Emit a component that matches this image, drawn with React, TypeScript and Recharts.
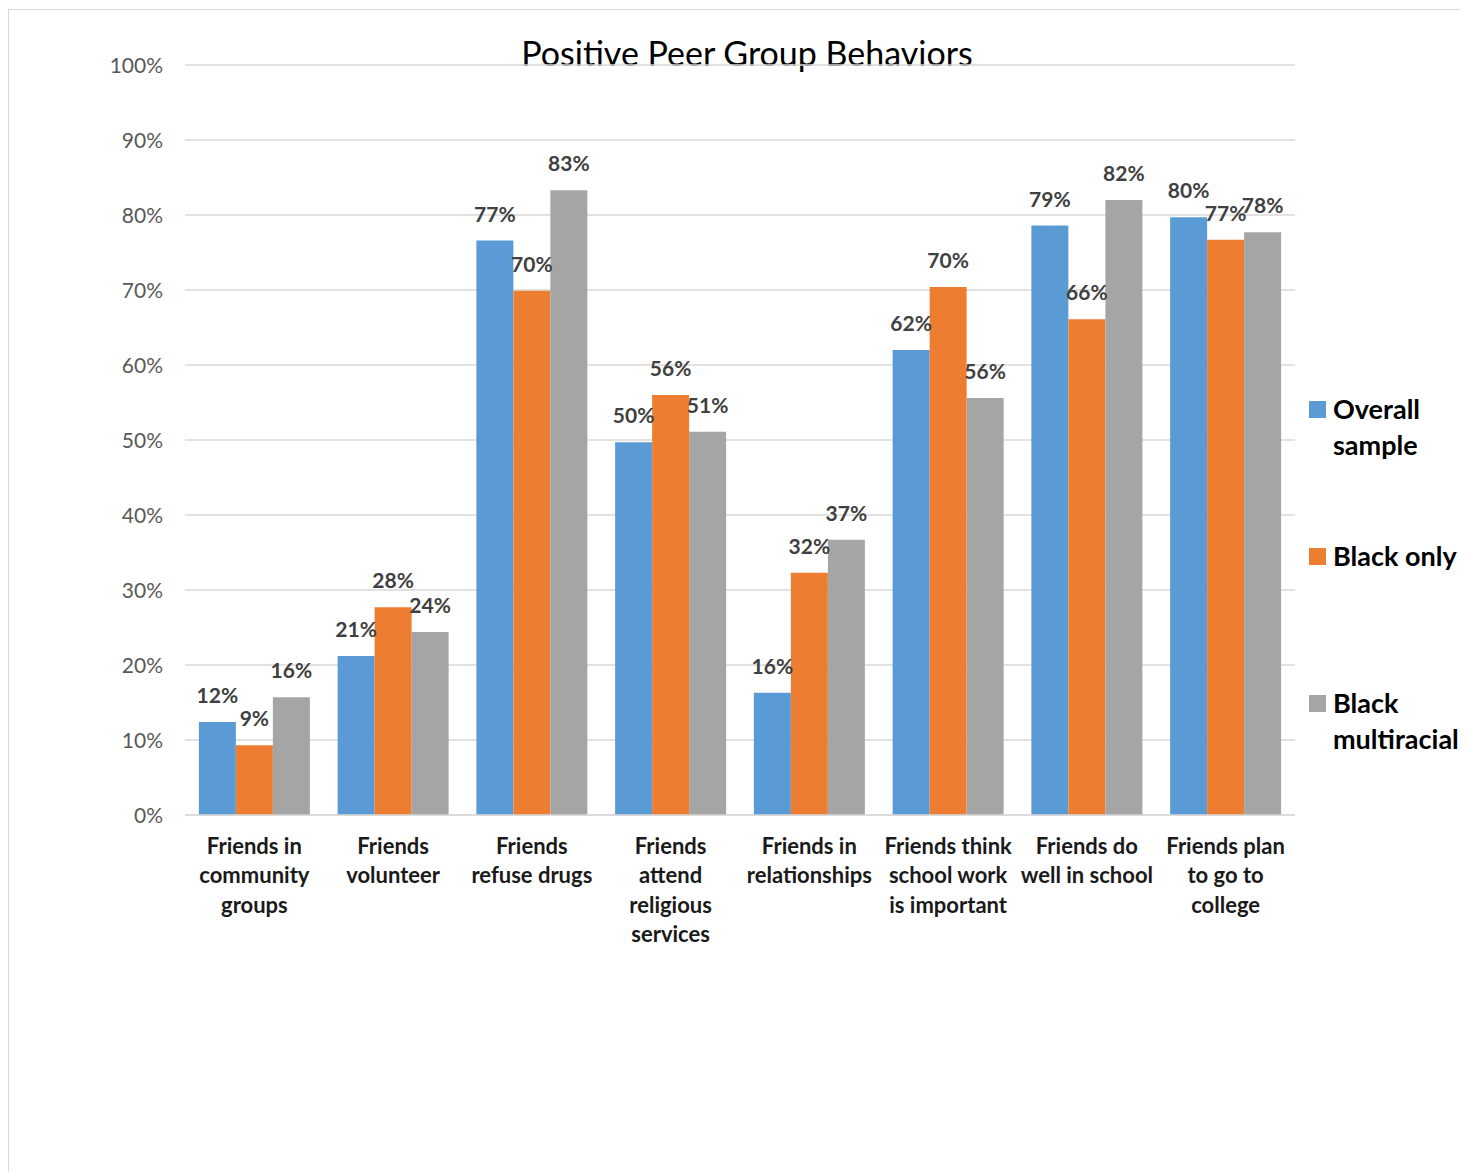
import React from "react";
import { BarChart, Bar, XAxis, YAxis, CartesianGrid, Legend, LabelList } from "recharts";

const categories = [
  "Friends in community groups",
  "Friends volunteer",
  "Friends refuse drugs",
  "Friends attend religious services",
  "Friends in relationships",
  "Friends think school work is important",
  "Friends do well in school",
  "Friends plan to go to college",
];
const categoryLines = [
  ["Friends in", "community", "groups"],
  ["Friends", "volunteer"],
  ["Friends", "refuse drugs"],
  ["Friends", "attend", "religious", "services"],
  ["Friends in", "relationships"],
  ["Friends think", "school work", "is important"],
  ["Friends do", "well in school"],
  ["Friends plan", "to go to", "college"],
];
const overallSample = [12.4, 21.2, 76.6, 49.7, 16.3, 62.0, 78.6, 79.7];
const blackOnly = [9.3, 27.7, 69.9, 56.0, 32.3, 70.4, 66.1, 76.7];
const blackMultiracial = [15.7, 24.4, 83.3, 51.1, 36.7, 55.6, 82.0, 77.7];
const yTicks = [0, 10, 20, 30, 40, 50, 60, 70, 80, 90, 100];
const seriesNames = ["Overall sample", "Black only", "Black multiracial"];
const legendLines = [["Overall", "sample"], ["Black only"], ["Black", "multiracial"]];
const seriesColors = ["#5B9BD5", "#ED7D31", "#A5A5A5"];
const title = "Positive Peer Group Behaviors";

const data = categories.map((c, i) => ({
  category: c,
  overall: overallSample[i],
  blackOnly: blackOnly[i],
  multi: blackMultiracial[i],
}));
const keys = ["overall", "blackOnly", "multi"];

const FONT = "Lato, 'Open Sans', sans-serif";

const XTick = (props: any) => {
  const { x, y, index } = props;
  const lines = categoryLines[index] || [];
  return (
    <text x={x} y={y} textAnchor="middle" fontFamily={FONT} fontWeight={700} fontSize={22} fill="#1a1a1a">
      {lines.map((l, i) => (
        <tspan key={i} x={x} y={y + 38.5 + i * 29.5}>
          {l}
        </tspan>
      ))}
    </text>
  );
};

const YTick = (props: any) => {
  const { x, y, payload } = props;
  return (
    <text x={x} y={y + 7.5} textAnchor="end" fontFamily={FONT} fontSize={21} fill="#595959">
      {`${payload.value}%`}
    </text>
  );
};

const renderLabel = (props: any) => {
  const { x, y, width, value } = props;
  return (
    <text
      x={Number(x) + Number(width) / 2}
      y={Number(y) - 19}
      textAnchor="middle"
      fontFamily={FONT}
      fontWeight={700}
      fontSize={21}
      fill="#404040"
    >
      {`${Math.round(Number(value))}%`}
    </text>
  );
};

const LegendContent = () => (
  <div style={{ position: "relative", width: 160, height: 340, fontFamily: FONT }}>
    {seriesNames.map((name, i) => (
      <div key={name} style={{ position: "absolute", left: 0, top: i * 147, width: 160 }}>
        <div
          style={{
            position: "absolute",
            left: 1,
            top: 9.5,
            width: 17,
            height: 17,
            background: seriesColors[i],
          }}
        />
        <div
          style={{
            position: "absolute",
            left: 25,
            top: -1,
            fontSize: 27,
            fontWeight: 700,
            lineHeight: "36px",
            color: "#000",
            whiteSpace: "nowrap",
          }}
        >
          {legendLines[i].map((l, j) => (
            <div key={j}>{l}</div>
          ))}
        </div>
      </div>
    ))}
  </div>
);

export default function App() {
  return (
    <div style={{ position: "relative", width: 1460, height: 1164, fontFamily: FONT }}>
      <div
        style={{
          position: "absolute",
          left: 0,
          top: 1,
          width: 1460,
          height: 1163,
          borderTop: "1px solid #d9d9d9",
          borderLeft: "1px solid #d9d9d9",
          boxSizing: "border-box",
          pointerEvents: "none",
        }}
      />
      <div
        style={{
          position: "absolute",
          left: 739 - 300,
          width: 600,
          top: 25,
          textAlign: "center",
          fontFamily: FONT,
          fontSize: 34,
          lineHeight: "40px",
          color: "#000",
        }}
      >
        {title}
      </div>
      <BarChart
        width={1460}
        height={1164}
        data={data}
        margin={{ top: 57, right: 13, bottom: 227, left: 117 }}
        barCategoryGap="10%"
        barGap={0}
      >
        <CartesianGrid horizontal vertical={false} stroke="#d9d9d9" strokeWidth={1.5} />
        <XAxis
          dataKey="category"
          height={130}
          tickLine={false}
          axisLine={{ stroke: "#d9d9d9", strokeWidth: 1.5 }}
          tickSize={0}
          tickMargin={0}
          interval={0}
          tick={<XTick />}
        />
        <YAxis
          width={60}
          domain={[0, 100]}
          ticks={yTicks}
          axisLine={false}
          tickLine={false}
          tickSize={0}
          tickMargin={22}
          tick={<YTick />}
          interval={0}
        />
        <Legend
          layout="vertical"
          align="right"
          verticalAlign="middle"
          content={<LegendContent />}
          wrapperStyle={{ width: 160, left: 1300, top: 383.5, right: undefined }}
        />
        {keys.map((k, i) => (
          <Bar key={k} dataKey={k} name={seriesNames[i]} fill={seriesColors[i]} isAnimationActive={false}>
            <LabelList dataKey={k} content={renderLabel} />
          </Bar>
        ))}
      </BarChart>
    </div>
  );
}
